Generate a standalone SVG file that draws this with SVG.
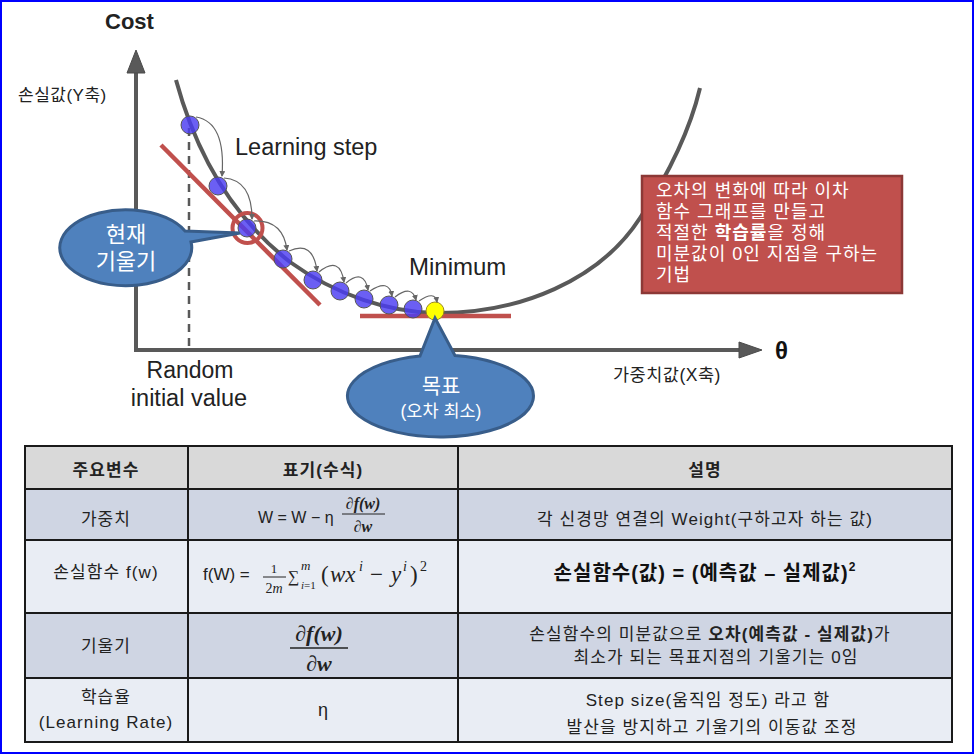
<svg xmlns="http://www.w3.org/2000/svg" width="974" height="754" viewBox="0 0 974 754">
<defs>
<style>
.k{font-family:"Liberation Sans","Noto Sans CJK KR",sans-serif;}
.ax{stroke:#595959;stroke-width:4;fill:none;}
.ball{fill:#4b3cf2;fill-opacity:0.82;stroke:#555;stroke-width:1;}
.step{stroke:#666;stroke-width:1.2;fill:none;marker-end:url(#ah);}
.red{stroke:#c0504d;stroke-width:4.5;fill:none;}
.call{fill:#4f81bd;stroke:#385d8a;stroke-width:3;}
.wt{fill:#fff;}
.grid{stroke:#1a1a1a;stroke-width:2;fill:none;}
.tt{font-size:17px;fill:#222;text-anchor:middle;letter-spacing:1.1px;}
.m{font-family:"Liberation Serif","DejaVu Serif",serif;font-style:italic;fill:#222;}
.u{font-family:"Liberation Serif","DejaVu Serif",serif;fill:#222;}
</style>
<marker id="ah" viewBox="0 0 6 6" refX="5" refY="3" markerWidth="6" markerHeight="6" markerUnits="userSpaceOnUse" orient="auto"><path d="M0,0 L6,3 L0,6 z" fill="#666"/></marker>
</defs>
<rect x="0" y="0" width="974" height="754" fill="#fff"/>
<rect x="1" y="1" width="972" height="752" fill="none" stroke="#0000ff" stroke-width="2"/>

<g id="axes">
<line class="ax" x1="136" y1="70" x2="136" y2="350"/>
<line class="ax" x1="134" y1="350" x2="742" y2="350"/>
<path d="M136,50 L145,73 L127,73 Z" fill="#595959" stroke="#4a4a4a" stroke-width="1"/>
<path d="M762,350 L739,342 L739,358 Z" fill="#595959" stroke="#4a4a4a" stroke-width="1"/>
<line x1="189" y1="128" x2="189" y2="350" stroke="#595959" stroke-width="2.5" stroke-dasharray="8,6"/>
<text class="k" x="105" y="29" font-size="22" font-weight="bold" fill="#222">Cost</text>
<text class="k" x="18" y="101" font-size="17" letter-spacing="0.5" fill="#222">손실값(Y축)</text>
<text class="k" x="775" y="359" font-size="24" font-weight="bold" fill="#111">θ</text>
<text class="k" x="613" y="381" font-size="17.5" letter-spacing="0.5" fill="#222">가중치값(X축)</text>
<text class="k" x="190" y="378" font-size="23" fill="#222" text-anchor="middle">Random</text>
<text class="k" x="189" y="406" font-size="23.5" fill="#222" text-anchor="middle">initial value</text>
<text class="k" x="235" y="155" font-size="23.5" fill="#222">Learning step</text>
<text class="k" x="409" y="275" font-size="24" fill="#222">Minimum</text>
</g>

<g id="curve">
<path class="ax" d="M176,80 C195,150 230,215 290,262 C337,296 390,312 435,313 C520,314 600,280 640,218 C670,172 690,130 700,88"/>
</g>

<g id="tangents">
<line class="red" x1="161" y1="145" x2="320" y2="305"/>
<line class="red" x1="360" y1="316" x2="511" y2="316"/>
</g>

<g id="balls">
<circle class="ball" cx="190" cy="125" r="9"/>
<circle class="ball" cx="218" cy="186" r="9"/>
<circle class="ball" cx="247" cy="228" r="9"/>
<circle class="ball" cx="283" cy="259" r="9"/>
<circle class="ball" cx="313" cy="280" r="9"/>
<circle class="ball" cx="340" cy="291" r="9"/>
<circle class="ball" cx="364" cy="299" r="9"/>
<circle class="ball" cx="389" cy="305" r="9"/>
<circle class="ball" cx="413" cy="309" r="9"/>
<circle cx="435" cy="311" r="9" fill="#ffff00" stroke="#9a8a20" stroke-width="1"/>
<circle cx="247.5" cy="228" r="15" fill="none" stroke="#c0504d" stroke-width="4"/>
</g>

<g id="connectors">
<path class="step" d="M196,117 Q226,122 222,176"/>
<path class="step" d="M224,178 Q252,180 252,219"/>
<path class="step" d="M254,221 Q283,220 287,250"/>
<path class="step" d="M289,251 Q313,240 317,271"/>
<path class="step" d="M319,272 Q340,255 344,282"/>
<path class="step" d="M346,283 Q364,268 368,290"/>
<path class="step" d="M370,291 Q389,278 392,296"/>
<path class="step" d="M395,297 Q412,284 416,300"/>
<path class="step" d="M419,301 Q435,290 437,302"/>
</g>

<g id="callout-current">
<path class="call" d="M185,231 A66,38 0 1 0 191,242 L240,233 Z"/>
<text class="k wt" x="126" y="242" font-size="22" text-anchor="middle">현재</text>
<text class="k wt" x="126" y="269" font-size="22" text-anchor="middle">기울기</text>
</g>

<g id="callout-goal">
<path class="call" d="M420,356 L435,318 L455,355.5 A93,41 0 1 1 420,356 Z"/>
<text class="k wt" x="441" y="393" font-size="21" text-anchor="middle">목표</text>
<text class="k wt" x="441" y="417" font-size="17.5" text-anchor="middle">(오차 최소)</text>
</g>

<g id="note">
<rect x="642" y="176" width="260" height="117" fill="#c0504d" stroke="#8c3836" stroke-width="2.5"/>
<text class="k wt" font-size="18" letter-spacing="1">
<tspan x="656" y="197">오차의 변화에 따라 이차</tspan>
<tspan x="656" y="218">함수 그래프를 만들고</tspan>
<tspan x="656" y="239">적절한 <tspan font-weight="bold">학습률</tspan>을 정해</tspan>
<tspan x="656" y="260">미분값이 0인 지점을 구하는</tspan>
<tspan x="656" y="281">기법</tspan>
</text>
</g>

<g id="table">
<rect x="25" y="446" width="927" height="43" fill="#d9d9d9"/>
<rect x="25" y="489" width="927" height="51" fill="#cfd5e3"/>
<rect x="25" y="540" width="927" height="73" fill="#e9edf4"/>
<rect x="25" y="613" width="927" height="65" fill="#cfd5e3"/>
<rect x="25" y="678" width="927" height="64" fill="#e9edf4"/>
<rect class="grid" x="25" y="446" width="927" height="296"/>
<line class="grid" x1="25" y1="489" x2="952" y2="489"/>
<line class="grid" x1="25" y1="540" x2="952" y2="540"/>
<line class="grid" x1="25" y1="613" x2="952" y2="613"/>
<line class="grid" x1="25" y1="678" x2="952" y2="678"/>
<line class="grid" x1="188" y1="446" x2="188" y2="742"/>
<line class="grid" x1="458" y1="446" x2="458" y2="742"/>

<text class="k tt" x="106" y="476" font-weight="bold">주요변수</text>
<text class="k tt" x="323" y="476" font-weight="bold">표기(수식)</text>
<text class="k tt" x="705" y="476" font-weight="bold">설명</text>

<text class="k tt" x="106" y="525">가중치</text>
<text class="k" x="258" y="523" font-size="16" fill="#222">W = W − η</text>
<text class="m" x="363" y="509" font-size="16" font-weight="bold" text-anchor="middle">∂f(w)</text>
<line x1="342" y1="514" x2="385" y2="514" stroke="#222" stroke-width="1"/>
<text class="m" x="363" y="532" font-size="16" font-weight="bold" text-anchor="middle">∂w</text>
<text class="k tt" x="705" y="525">각 신경망 연결의 Weight(구하고자 하는 값)</text>

<text class="k tt" x="106" y="578">손실함수 f(w)</text>
<text class="k" x="203" y="580" font-size="17" fill="#222">f(W) =</text>
<text class="u" x="274" y="573" font-size="13" text-anchor="middle">1</text>
<line x1="263" y1="577" x2="286" y2="577" stroke="#222" stroke-width="1"/>
<text class="u" x="274" y="593" font-size="14" text-anchor="middle">2<tspan font-style="italic">m</tspan></text>
<text class="u" x="288" y="582" font-size="16">∑</text>
<text class="m" x="301" y="570" font-size="13">m</text>
<text class="m" x="301" y="589" font-size="11">i<tspan font-style="normal">=1</tspan></text>
<text class="u" x="321" y="582" font-size="23">(</text>
<text class="m" x="330" y="582" font-size="23">wx</text>
<text class="m" x="359" y="571" font-size="14">i</text>
<text class="u" x="370" y="582" font-size="23">−</text>
<text class="m" x="391" y="582" font-size="23">y</text>
<text class="m" x="403" y="571" font-size="14">i</text>
<text class="u" x="410" y="582" font-size="23">)</text>
<text class="u" x="420" y="571" font-size="14">2</text>
<text class="k" x="705" y="580" font-size="20" font-weight="bold" letter-spacing="1" text-anchor="middle" fill="#111">손실함수(값) = (예측값 – 실제값)<tspan font-size="12" dy="-9">2</tspan></text>

<text class="k tt" x="106" y="652">기울기</text>
<text class="m" x="319" y="641" font-size="22" font-weight="bold" text-anchor="middle">∂f(w)</text>
<line x1="290" y1="648" x2="348" y2="648" stroke="#222" stroke-width="1.5"/>
<text class="m" x="319" y="671" font-size="22" font-weight="bold" text-anchor="middle">∂w</text>
<text class="k tt" x="710" y="640">손실함수의 미분값으로  <tspan font-weight="bold">오차(예측값 - 실제값)</tspan>가</text>
<text class="k tt" x="716" y="663">최소가 되는 목표지점의 기울기는 0임</text>

<text class="k tt" x="106" y="703">학습율</text>
<text class="k tt" x="106" y="728" letter-spacing="0.3">(Learning Rate)</text>
<text class="k" x="323" y="716" font-size="18" text-anchor="middle" fill="#222">η</text>
<text class="k tt" x="708" y="706">Step size(움직임 정도) 라고 함</text>
<text class="k tt" x="712" y="733">발산을 방지하고 기울기의 이동값 조정</text>
</g>
</svg>
